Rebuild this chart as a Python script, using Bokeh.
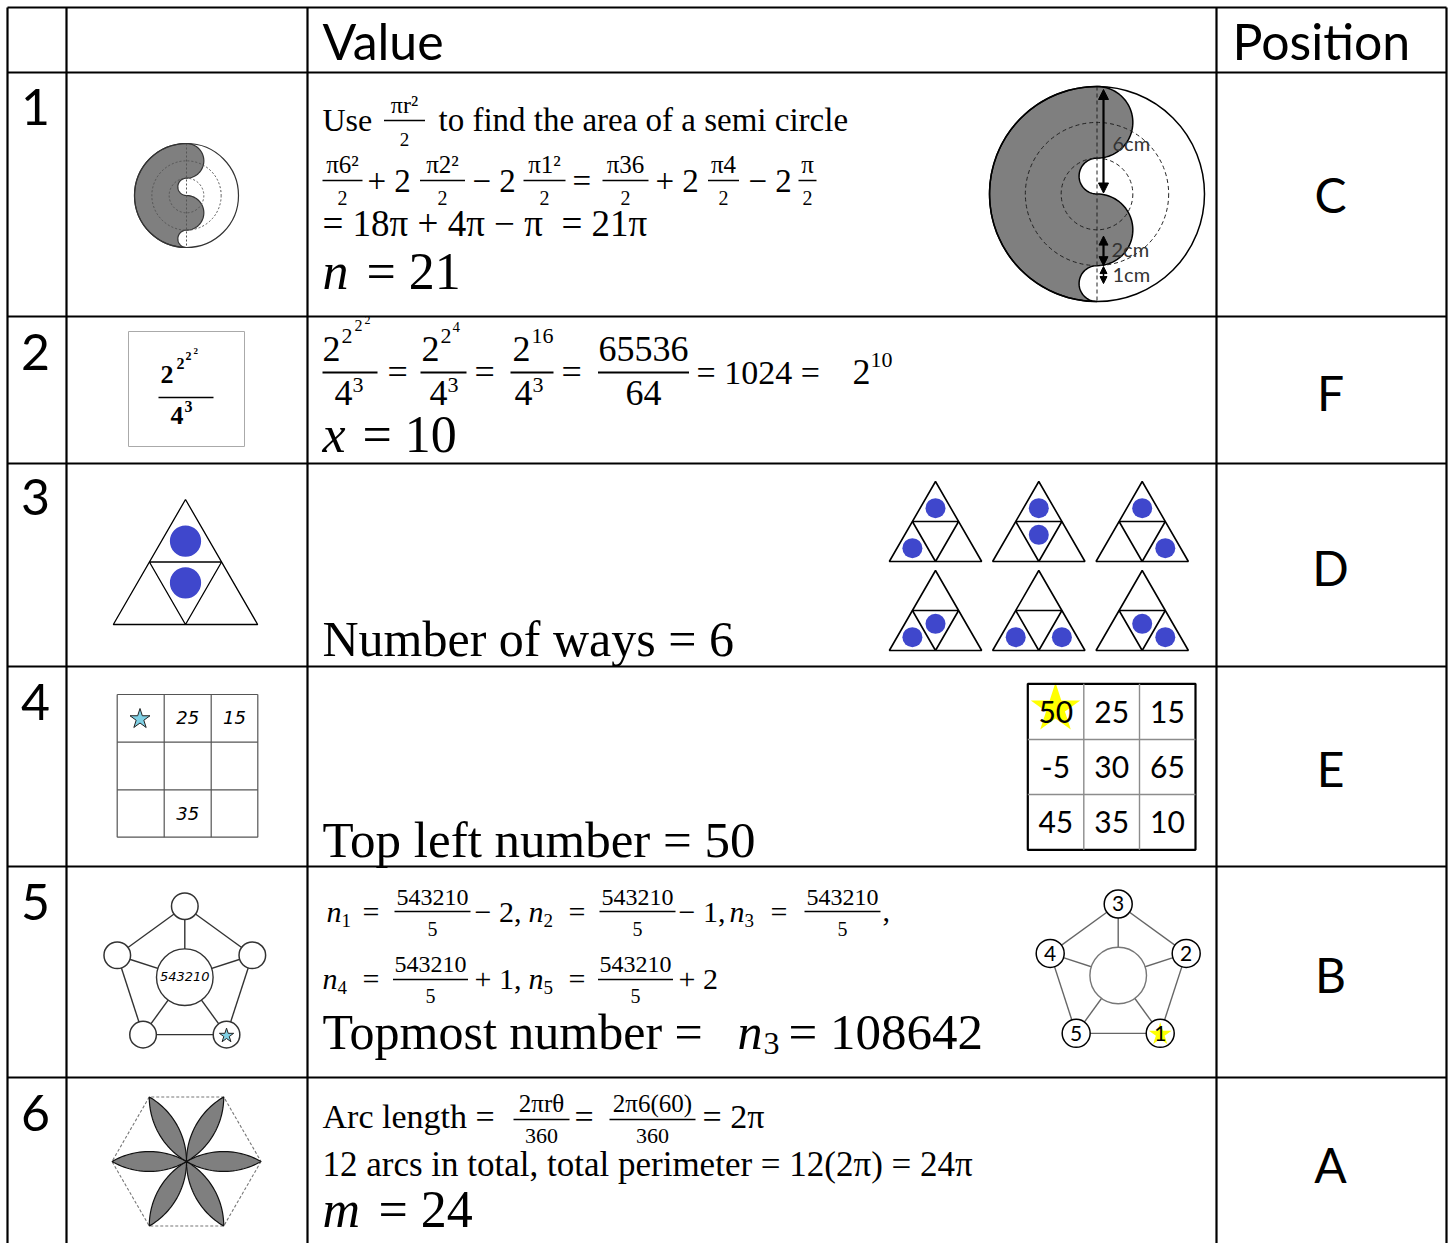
import numpy as np
from bokeh.plotting import figure
from bokeh.models import Range1d, Arrow, NormalHead
from bokeh.embed import file_html
from bokeh.resources import INLINE

# ---------------- content ----------------
header_labels = ["Value", "Position"]
row_numbers = ["1", "2", "3", "4", "5", "6"]
position_letters = ["C", "F", "D", "E", "B", "A"]

# row 1 : semicircle figure (radii in cm) and working
circle_cm = [6, 2, 1]
circle_labels = ["6cm", "2cm", "1cm"]
r1_words = ["Use", "to find the area of a semi circle"]
r1_formula = ["πr²", "2"]
r1_numerators = ["π6²", "π2²", "π1²", "π36", "π4", "π"]
r1_denominators = ["2", "2", "2", "2", "2", "2"]
r1_operators = ["+ 2", "− 2", "=", "+ 2", "− 2"]
r1_simplified = ["= 18π + 4π − π", "= 21π"]
r1_answer = ["n", "= 21"]

# row 2 : power tower
r2_towers = [["2", "2", "2", "2"], ["2", "2", "4"], ["2", "16"]]
r2_denominator = ["4", "3"]
r2_quotient = ["65536", "64"]
r2_tail = ["= 1024 =", "2", "10"]
r2_answer = ["x", "= 10"]

# row 3 : two counters on a 4-cell triangle
triangle_ways = [("top", "left"), ("top", "mid"), ("top", "right"),
                 ("left", "mid"), ("left", "right"), ("mid", "right")]
triangle_icon = ("top", "mid")
r3_answer = "Number of ways = 6"

# row 4 : magic square
square_given = [["", "25", "15"], ["", "", ""], ["", "35", ""]]
square_values = [["50", "25", "15"], ["-5", "30", "65"], ["45", "35", "10"]]
r4_answer = "Top left number = 50"

# row 5 : pentagon
pent_total = "543210"
pent_divisor = "5"
pent_line1 = [("1", "− 2,"), ("2", "− 1,"), ("3", ",")]
pent_line2 = [("4", "+ 1,"), ("5", "+ 2")]
pent_labels = ["3", "2", "1", "5", "4"]   # top, right, bottom-right, bottom-left, left
r5_answer = ["Topmost number =", "n", "3", "= 108642"]

# row 6 : flower of arcs
r6_words = ["Arc length =", "=", "= 2π"]
r6_fracs = [("2πrθ", "360"), ("2π6(60)", "360")]
r6_total = "12 arcs in total, total perimeter = 12(2π) = 24π"
r6_answer = ["m", "= 24"]

# ---------------- figure ----------------
SANS = "Lato"
SERIF = "Liberation Serif"
HAND = "DejaVu Sans"
SHIFT = {SANS: 0.37, SERIF: 0.35, HAND: 0.36}

p = figure(width=1449, height=1243, x_range=Range1d(0, 1449), y_range=Range1d(1243, 0),
           output_backend="svg", toolbar_location=None, min_border=0,
           x_axis_type=None, y_axis_type=None)
p.grid.visible = False
p.outline_line_color = None
p.background_fill_color = "white"
p.border_fill_color = "white"

TX = dict(x=[], y=[], text=[], size=[], font=[], style=[], align=[], color=[])


def T(x, y, s, size, font=SERIF, style="normal", align="left", color="black"):
    TX["x"].append(x)
    TX["y"].append(y - SHIFT[font] * size)
    TX["text"].append(s)
    TX["size"].append(f"{size}px")
    TX["font"].append(font)
    TX["style"].append(style)
    TX["align"].append(align)
    TX["color"].append(color)


SG = dict(x0=[], y0=[], x1=[], y1=[], w=[], c=[])


def seg(x0, y0, x1, y1, w=1.6, c="black"):
    SG["x0"].append(x0)
    SG["y0"].append(y0)
    SG["x1"].append(x1)
    SG["y1"].append(y1)
    SG["w"].append(w)
    SG["c"].append(c)


def frac(xc, ybar, num, den, ns, ds, w, nb, db, lw=1.6):
    T(xc, nb, num, ns, align="center")
    T(xc, db, den, ds, align="center")
    seg(xc - w / 2, ybar, xc + w / 2, ybar, lw)


# ---------------- table grid ----------------
col_x = [7, 66, 307, 1216, 1446]
row_y = [7, 72, 316, 463, 666, 866, 1077]
for yy in row_y:
    seg(7, yy, 1446, yy, 2.2)
for xx in col_x:
    seg(xx, 7, xx, 1260, 2.2)

T(322, 59, header_labels[0], 50, SANS)
T(1232, 59, header_labels[1], 50, SANS)
num_base = [125, 370, 515, 720, 920, 1131]
for s, yy in zip(row_numbers, num_base):
    T(35, yy, s, 50, SANS, align="center")
pos_base = [212, 410, 585, 786, 992, 1182]
for s, yy in zip(position_letters, pos_base):
    T(1330, yy, s, 48, SANS, align="center")


# ---------------- row 1 ----------------
def s_shape(cx, cy, R, n=48):
    big, bump, hole = circle_cm
    u = R / big
    parts = [(0, 0, big, np.pi / 2, 1.5 * np.pi),
             (0, -(big - hole), hole, -np.pi / 2, -1.5 * np.pi),
             (0, -bump, bump, -np.pi / 2, np.pi / 2),
             (0, hole, hole, -np.pi / 2, -1.5 * np.pi),
             (0, big - bump, bump, -np.pi / 2, np.pi / 2)]
    xs, ys = [], []
    for (ox, oy, r, a0, a1) in parts:
        t = np.linspace(a0, a1, n)
        xs += list(cx + (ox + r * np.cos(t)) * u)
        ys += list(cy - (oy + r * np.sin(t)) * u)
    return xs, ys


def draw_s(cx, cy, R, lc, lw, dc, dash):
    big, bump, hole = circle_cm
    u = R / big
    xs, ys = s_shape(cx, cy, R)
    p.patch(xs, ys, fill_color="#7f7f7f", line_color=lc, line_width=lw)
    p.circle([cx, cx], [cy, cy], radius=[(big - bump) * u, bump * u], fill_color=None,
             line_color=dc, line_dash=dash, line_width=1)
    p.segment([cx], [cy - R], [cx], [cy + R], line_color=dc, line_dash=dash, line_width=1)
    p.circle([cx], [cy], radius=R, fill_color=None, line_color=lc, line_width=lw)


draw_s(186, 195, 52, "#333333", 1.2, "#555555", "2 2")
bcx, bcy, bR = 1096.5, 193.5, 107.5
draw_s(bcx, bcy, bR, "black", 1.5, "#222222", "4 3")
u1 = bR / circle_cm[0]
axx = bcx + 6.5
p.add_layout(Arrow(x_start=axx, y_start=bcy - bR + 3, x_end=axx, y_end=bcy - 1,
                   start=NormalHead(size=10, fill_color="black", line_color="black"),
                   end=NormalHead(size=10, fill_color="black", line_color="black"),
                   line_width=2.2))
p.add_layout(Arrow(x_start=axx, y_start=bcy + 2.35 * u1, x_end=axx, y_end=bcy + 4 * u1,
                   start=NormalHead(size=9, fill_color="black", line_color="black"),
                   end=NormalHead(size=9, fill_color="black", line_color="black"),
                   line_width=2.2))
p.add_layout(Arrow(x_start=axx, y_start=bcy + 4.05 * u1, x_end=axx, y_end=bcy + 5 * u1,
                   start=NormalHead(size=7, fill_color="black", line_color="black"),
                   end=NormalHead(size=7, fill_color="black", line_color="black"),
                   line_width=1.5))
T(1112, 150, circle_labels[0], 20, SANS, color="#333333")
T(1111, 256, circle_labels[1], 20, SANS, color="#333333")
T(1112, 281, circle_labels[2], 20, SANS, color="#333333")

T(322, 131, r1_words[0], 32)
frac(404, 120, r1_formula[0], r1_formula[1], 24, 19, 41, 113, 146)
T(438, 131, r1_words[1], 33)
f_cx = [342, 442, 544, 625, 723, 807]
f_w = [40, 45, 42, 46, 31, 18]
for xc, w, nu, de in zip(f_cx, f_w, r1_numerators, r1_denominators):
    frac(xc, 180, nu, de, 25, 20, w, 173, 204)
for xo, op in zip([367, 472, 572, 655, 748], r1_operators):
    T(xo, 192, op, 33)
T(322, 236, r1_simplified[0], 37)
T(561, 236, r1_simplified[1], 37)
T(322, 289, r1_answer[0], 52, style="italic")
T(366, 289, r1_answer[1], 52)

# ---------------- row 2 ----------------
p.quad(left=[128], right=[244], top=[331], bottom=[446], fill_color=None,
       line_color="#aaaaaa", line_width=1)
tw = r2_towers[0]
T(160, 383, tw[0], 26, style="bold")
T(176, 369, tw[1], 16, style="bold")
T(185, 360, tw[2], 12, style="bold")
T(193, 354, tw[3], 9, style="bold")
seg(158, 397, 213, 397, 1.5)
T(170, 424, r2_denominator[0], 26, style="bold")
T(184, 412, r2_denominator[1], 16, style="bold")

# tower fractions
T(322, 361, tw[0], 36)
T(341, 343, tw[1], 22)
T(354, 331, tw[2], 16)
T(364, 324, tw[3], 12)
t2 = r2_towers[1]
T(421, 361, t2[0], 36)
T(440, 343, t2[1], 22)
T(452, 332, t2[2], 15)
t3 = r2_towers[2]
T(512, 361, t3[0], 36)
T(531, 343, t3[1], 22)
for (xa, xb), dx in zip([(322, 377), (420, 466), (510, 553)], [334, 429, 514]):
    seg(xa, 372, xb, 372, 1.8)
    T(dx, 405, r2_denominator[0], 36)
    T(dx + 18, 392, r2_denominator[1], 22)
for xo in [387, 474, 561]:
    T(xo, 384, "=", 36)
frac(643, 372, r2_quotient[0], r2_quotient[1], 36, 36, 91, 361, 405, 1.8)
T(696, 384, r2_tail[0], 34)
T(852, 384, r2_tail[1], 36)
T(870, 367, r2_tail[2], 22)
T(322, 452, r2_answer[0], 52, style="italic")
T(362, 452, r2_answer[1], 52)


# ---------------- row 3 ----------------
def triangle(ax, ay, h, dots, lw):
    w = h / np.sqrt(3)
    p.patch([ax, ax - w, ax + w], [ay, ay + h, ay + h], fill_color=None,
            line_color="black", line_width=lw)
    p.patch([ax - w / 2, ax + w / 2, ax], [ay + h / 2, ay + h / 2, ay + h], fill_color=None,
            line_color="black", line_width=lw)
    cells = {"top": (ax, ay + h / 3), "mid": (ax, ay + 2 * h / 3),
             "left": (ax - w / 2, ay + 5 * h / 6), "right": (ax + w / 2, ay + 5 * h / 6)}
    xs = [cells[d][0] for d in dots]
    ys = [cells[d][1] for d in dots]
    p.circle(xs, ys, radius=0.125 * h, fill_color="#3f47cc", line_color=None)


triangle(185, 499, 125, triangle_icon, 1.3)
tri_ax = [935, 1038.3, 1141.7, 935, 1038.3, 1141.7]
tri_ay = [481, 481, 481, 570, 570, 570]
for ax, ay, way in zip(tri_ax, tri_ay, triangle_ways):
    triangle(ax, ay, 80, way, 1.6)
T(322, 656, r3_answer, 50)

# ---------------- row 4 ----------------
gx = [116.7, 163.7, 210.7, 257.3]
gy = [694, 741.7, 789.3, 836.7]
for xx in gx:
    seg(xx, gy[0], xx, gy[-1], 1.2, "#555555")
for yy in gy:
    seg(gx[0], yy, gx[-1], yy, 1.2, "#555555")
p.scatter([139.5], [718.5], marker="star", size=21, fill_color="#7fd0e4",
          line_color="#222222", line_width=1)
for i in range(3):
    for j in range(3):
        if square_given[i][j]:
            T((gx[j] + gx[j + 1]) / 2, (gy[i] + gy[i + 1]) / 2 + 6, square_given[i][j], 18,
              HAND, style="italic", align="center")

sx = [1027.3, 1083.3, 1139, 1195]
sy = [683.3, 739, 794, 849.3]
p.scatter([1055], [708], marker="star", size=52, fill_color="#ffff00", line_color=None)
for xx in sx[1:3]:
    seg(xx, sy[0], xx, sy[-1], 1.4, "#8c8c8c")
for yy in sy[1:3]:
    seg(sx[0], yy, sx[-1], yy, 1.4, "#8c8c8c")
p.quad(left=[sx[0]], right=[sx[-1]], top=[sy[0]], bottom=[sy[-1]], fill_color=None,
       line_color="black", line_width=2.2)
for i in range(3):
    for j in range(3):
        T((sx[j] + sx[j + 1]) / 2, (sy[i] + sy[i + 1]) / 2 + 11, square_values[i][j], 30,
          SANS, align="center")
T(322, 857, r4_answer, 51)


# ---------------- row 5 ----------------
def pentagon(cx, cy, R, r_out, r_in, edge_c, circ_c, center_c):
    angs = np.deg2rad([-90, -18, 54, 126, 198])
    px = list(cx + R * np.cos(angs))
    py = list(cy + R * np.sin(angs))
    p.segment(px, py, px[1:] + px[:1], py[1:] + py[:1], line_color=edge_c, line_width=1.4)
    p.segment([cx] * 5, [cy] * 5, px, py, line_color=edge_c, line_width=1.4)
    p.circle([cx], [cy], radius=r_in, fill_color="white", line_color=center_c, line_width=1.4)
    p.circle(px, py, radius=r_out, fill_color="white", line_color=circ_c, line_width=1.5)
    return px, py


lpx, lpy = pentagon(184.3, 976.7, 71, 13.3, 28.3, "#333333", "#333333", "#333333")
p.scatter([lpx[2]], [lpy[2] + 1], marker="star", size=15, fill_color="#7fd0e4",
          line_color="#222222", line_width=1)
T(184.3, 981, pent_total, 13, HAND, style="italic", align="center")

rpx, rpy = pentagon(1117.7, 975, 71.5, 14, 28.3, "#666666", "black", "#777777")
p.scatter([rpx[2]], [rpy[2] + 1], marker="star", size=24, fill_color="#ffff00", line_color=None)
for s, xx, yy in zip(pent_labels, rpx, rpy):
    T(xx, yy + 7.5, s, 21, SANS, align="center")

# line 1
l1_n = [326, 528, 729]
l1_eq = [362, 568, 770]
l1_fc = [432, 637, 842]
l1_op = [474, 678, 882]
for (sub, op), xn, xe, xc, xo in zip(pent_line1, l1_n, l1_eq, l1_fc, l1_op):
    T(xn, 921, "n", 30, style="italic")
    T(xn + 15, 927, sub, 19)
    T(xe, 921, "=", 30)
    frac(xc, 911, pent_total, pent_divisor, 24, 20, 76, 905, 935)
    T(xo, 921, op, 30)
# line 2
l2_n = [322, 528]
l2_eq = [362, 568]
l2_fc = [430, 635]
l2_op = [474, 678]
for (sub, op), xn, xe, xc, xo in zip(pent_line2, l2_n, l2_eq, l2_fc, l2_op):
    T(xn, 988, "n", 30, style="italic")
    T(xn + 15, 994, sub, 19)
    T(xe, 988, "=", 30)
    frac(xc, 979, pent_total, pent_divisor, 24, 20, 75, 972, 1002)
    T(xo, 988, op, 30)
# line 3
T(322, 1049, r5_answer[0], 50)
T(737, 1049, r5_answer[1], 50, style="italic")
T(763, 1054, r5_answer[2], 32)
T(788, 1049, r5_answer[3], 51)


# ---------------- row 6 ----------------
def flower(cx, cy, R):
    ang = np.deg2rad([0, 60, 120, 180, 240, 300])
    V = [(cx + R * np.cos(a), cy + R * np.sin(a)) for a in ang]
    p.patch([v[0] for v in V], [v[1] for v in V], fill_color=None, line_color="#777777",
            line_dash="3 2", line_width=1.1)

    def arc(c, a, b, n=30):
        a0 = np.arctan2(a[1] - c[1], a[0] - c[0])
        a1 = np.arctan2(b[1] - c[1], b[0] - c[0])
        d = (a1 - a0 + np.pi) % (2 * np.pi) - np.pi
        t = a0 + d * np.linspace(0, 1, n)
        return list(c[0] + R * np.cos(t)), list(c[1] + R * np.sin(t))

    XS, YS = [], []
    O = (cx, cy)
    for k in range(6):
        vk, vn, vp = V[k], V[(k + 1) % 6], V[(k - 1) % 6]
        x1, y1 = arc(vn, O, vk)
        x2, y2 = arc(vp, vk, O)
        XS.append(x1 + x2)
        YS.append(y1 + y2)
    p.patches(XS, YS, fill_color="#7f7f7f", line_color="#111111", line_width=1.2)


flower(186, 1161, 74.5)
T(322, 1128, r6_words[0], 34)
frac(541, 1119, r6_fracs[0][0], r6_fracs[0][1], 25, 22, 56, 1112, 1143)
T(574, 1128, r6_words[1], 34)
frac(652, 1119, r6_fracs[1][0], r6_fracs[1][1], 25, 22, 86, 1112, 1143)
T(702, 1128, r6_words[2], 34)
T(322, 1176, r6_total, 35)
T(322, 1227, r6_answer[0], 52, style="italic")
T(378, 1227, r6_answer[1], 52)

# ---------------- draw collected segments & texts ----------------
p.segment(x0="x0", y0="y0", x1="x1", y1="y1", line_width="w", line_color="c", source=SG)
p.text(x="x", y="y", text="text", text_font_size="size", text_font="font",
       text_font_style="style", text_align="align", text_color="color",
       text_baseline="alphabetic", source=TX)

open("out.html", "w").write(file_html(p, INLINE))
